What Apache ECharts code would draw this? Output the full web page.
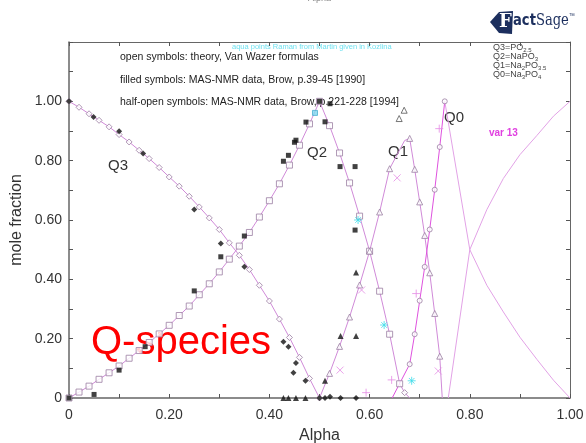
<!DOCTYPE html>
<html>
<head>
<meta charset="utf-8">
<script src="https://cdn.jsdelivr.net/npm/echarts@6/dist/echarts.min.js"></script>
<style>
  html, body { margin: 0; padding: 0; background: #ffffff; }
  #chart { width: 586px; height: 443px; }
</style>
</head>
<body>
<div id="chart"></div>
<script>
// Van Wazer theory curves: [alpha, mole fraction]
const q3Theory = [
  [0, 1.0], [0.02, 0.98], [0.04, 0.958], [0.06, 0.936], [0.08, 0.914], [0.10, 0.888],
  [0.12, 0.863], [0.14, 0.835], [0.16, 0.807], [0.18, 0.777], [0.20, 0.745], [0.22, 0.714],
  [0.24, 0.680], [0.26, 0.644], [0.28, 0.607], [0.30, 0.568], [0.32, 0.523], [0.34, 0.481],
  [0.36, 0.433], [0.38, 0.380], [0.40, 0.327], [0.42, 0.266], [0.44, 0.204], [0.46, 0.137],
  [0.48, 0.066], [0.50, 0]
];
const q2Theory = [
  [0, 0], [0.02, 0.02], [0.04, 0.04], [0.06, 0.063], [0.08, 0.085], [0.10, 0.108],
  [0.12, 0.134], [0.14, 0.16], [0.16, 0.187], [0.18, 0.216], [0.20, 0.245], [0.22, 0.278],
  [0.24, 0.31], [0.26, 0.348], [0.28, 0.385], [0.30, 0.425], [0.32, 0.468], [0.34, 0.512],
  [0.36, 0.558], [0.38, 0.61], [0.40, 0.665], [0.42, 0.722], [0.44, 0.785], [0.46, 0.852],
  [0.48, 0.924], [0.50, 1.0], [0.52, 0.918], [0.54, 0.826], [0.56, 0.725], [0.58, 0.613],
  [0.60, 0.495], [0.62, 0.36], [0.64, 0.215], [0.66, 0.048], [0.67, 0.018], [0.68, 0]
];
const q1Theory = [
  [0.50, 0], [0.52, 0.083], [0.54, 0.174], [0.56, 0.273], [0.58, 0.381], [0.60, 0.495],
  [0.62, 0.627], [0.64, 0.773], [0.67, 0.868], [0.68, 0.875], [0.69, 0.771], [0.70, 0.661],
  [0.71, 0.548], [0.72, 0.422], [0.73, 0.285], [0.74, 0.141], [0.745, 0]
];
const q0Theory = [
  [0.645, 0], [0.68, 0.114], [0.69, 0.215], [0.70, 0.328], [0.71, 0.442], [0.72, 0.568],
  [0.73, 0.702], [0.74, 0.846], [0.75, 1.0]
];
// "var 13" pair beyond the orthophosphate composition
const var13Fall = [
  [0.75, 1.0], [0.80, 0.50], [0.834, 0.38], [0.867, 0.29], [0.90, 0.205],
  [0.934, 0.13], [0.967, 0.06], [1.0, 0]
];
const var13Rise = [
  [0.757, 0], [0.80, 0.50], [0.834, 0.635], [0.867, 0.74], [0.90, 0.82],
  [0.934, 0.885], [0.967, 0.95], [1.0, 1.0]
];
// extra open triangles above the Q1 maximum
const q1OpenExtra = [[0.659, 0.942], [0.669, 0.97]];

// MAS-NMR data (Brow)
const q3Nmr = [
  [0, 1.0], [0.049, 0.947], [0.10, 0.899], [0.148, 0.824], [0.25, 0.635], [0.303, 0.521],
  [0.35, 0.442], [0.428, 0.19], [0.438, 0.173], [0.453, 0.118], [0.448, 0.085], [0.472, 0.058],
  [0.50, 0], [0.511, 0], [0.521, 0.004], [0.542, 0], [0.573, 0]
];
const q2Nmr = [
  [0, 0], [0.05, 0.012], [0.10, 0.094], [0.152, 0.173], [0.25, 0.361], [0.303, 0.476],
  [0.35, 0.546], [0.428, 0.798], [0.438, 0.818], [0.45, 0.862], [0.453, 0.869], [0.473, 0.93],
  [0.50, 1.0], [0.511, 0.931], [0.521, 0.992], [0.541, 0.78], [0.571, 0.78], [0.571, 0.566]
];
const q1Nmr = [
  [0.428, 0], [0.438, 0], [0.453, 0], [0.472, 0], [0.511, 0.058], [0.542, 0.209],
  [0.573, 0.209], [0.573, 0.423]
];
// further pink data points
const pinkCross = [[0.541, 0.094], [0.584, 0.364], [0.655, 0.742], [0.737, 0.091]];
const pinkPlus = [[0.593, 0.018], [0.644, 0.061], [0.693, 0.352], [0.739, 0.908]];
// Raman data (Martin, given in Kozlina)
const ramanSquare = [[0.491, 0.961]];
const ramanStar = [[0.577, 0.6], [0.629, 0.246], [0.684, 0.058]];

// axis tick labels (every second tick)
const xTickLabels = ['0', '0.20', '0.40', '0.60', '0.80', '1.00'];
const yTickLabels = ['0', '0.20', '0.40', '0.60', '0.80', '1.00'];

const FONT = '"Liberation Sans", Arial, sans-serif';
const LINE_VIOLET = '#d08ad8';
const LINE_MAGENTA = '#de52de';
const LINE_PINK = '#e2a2e6';
const MARK_STROKE = '#9b7ea3';

function evenLabel(list) {
  return function (v) {
    const k = Math.round(v * 10);
    if (k % 2 !== 0) return '';
    return list[k / 2] !== undefined ? list[k / 2] : '';
  };
}

function lineSeries(data, color) {
  return {
    type: 'line', data: data, showSymbol: false, symbol: 'none',
    lineStyle: { color: color, width: 1 }, z: 2, silent: true, animation: false
  };
}
function openMarks(data, symbol, size) {
  return {
    type: 'scatter', data: data, symbol: symbol, symbolSize: size,
    itemStyle: { color: '#ffffff', borderColor: MARK_STROKE, borderWidth: 1 },
    z: 3, silent: true, animation: false
  };
}
function filledMarks(data, symbol, size) {
  return {
    type: 'scatter', data: data, symbol: symbol, symbolSize: size,
    itemStyle: { color: '#111111' }, z: 4, silent: true, animation: false
  };
}
function strokeMarks(data, path, size, color) {
  return {
    type: 'scatter', data: data, symbol: path, symbolSize: size,
    itemStyle: { color: 'rgba(0,0,0,0)', borderColor: color, borderWidth: 1 },
    z: 5, silent: true, animation: false
  };
}

const CROSS = 'path://M0,0L10,10M10,0L0,10';
const PLUS = 'path://M5,0L5,10M0,5L10,5';
const STAR = 'path://M5,0L5,10M0,5L10,5M1.5,1.5L8.5,8.5M8.5,1.5L1.5,8.5';

const chart = echarts.init(document.getElementById('chart'), null, { renderer: 'canvas' });

const q1Marked = q1Theory.filter((p, i) => i > 0 && i < q1Theory.length - 1 && p[0] !== 0.67);
const q0Marked = q0Theory.slice(1);
const q2Marked = q2Theory.slice(0, -2);
const q2Tail = q2Theory.slice(-2, -1);

const frameTick = { show: true, inside: true, length: 4, lineStyle: { color: '#555' } };

const option = {
  animation: false,
  backgroundColor: '#ffffff',
  grid: { left: 69, right: 16, top: 42, bottom: 45, containLabel: false, outerBoundsMode: 'none' },
  xAxis: [{
    type: 'value', min: 0, max: 1, interval: 0.1, position: 'bottom',
    name: 'Alpha', nameLocation: 'middle', nameGap: 30, nameMoveOverlap: false,
    nameTextStyle: { fontFamily: FONT, fontSize: 16, color: '#333' },
    axisLine: { show: true, onZero: false, lineStyle: { color: '#666', width: 1.5 } },
    axisTick: frameTick,
    axisLabel: { formatter: evenLabel(xTickLabels), fontFamily: FONT, fontSize: 14, color: '#333', margin: 10 },
    splitLine: { show: false }
  }, {
    type: 'value', min: 0, max: 1, interval: 0.1, position: 'top',
    axisLine: { show: true, onZero: false, lineStyle: { color: '#666', width: 1 } },
    axisTick: frameTick,
    axisLabel: { show: false }, splitLine: { show: false }
  }],
  yAxis: [{
    type: 'value', min: 0, max: 1.2, interval: 0.1, position: 'left',
    name: 'mole fraction', nameLocation: 'middle', nameGap: 44, nameRotate: 90, nameMoveOverlap: false,
    nameTextStyle: { fontFamily: FONT, fontSize: 16, color: '#333' },
    axisLine: { show: true, onZero: false, lineStyle: { color: '#666', width: 1.5 } },
    axisTick: frameTick,
    axisLabel: { formatter: evenLabel(yTickLabels), fontFamily: FONT, fontSize: 14, color: '#333', margin: 7 },
    splitLine: { show: false }
  }, {
    type: 'value', min: 0, max: 1.2, interval: 0.1, position: 'right',
    axisLine: { show: true, onZero: false, lineStyle: { color: '#666', width: 1 } },
    axisTick: frameTick,
    axisLabel: { show: false }, splitLine: { show: false }
  }],
  series: [
    lineSeries(q3Theory, LINE_VIOLET),
    lineSeries(q2Theory, LINE_VIOLET),
    lineSeries(q1Theory, LINE_VIOLET),
    lineSeries(q0Theory, LINE_MAGENTA),
    lineSeries(var13Fall, LINE_PINK),
    lineSeries(var13Rise, LINE_PINK),
    openMarks(q3Theory, 'diamond', 6),
    openMarks(q2Marked, 'rect', 6),
    openMarks(q2Tail, 'diamond', 6),
    openMarks(q1Marked, 'triangle', 6),
    openMarks(q0Marked, 'circle', 5),
    {
      type: 'scatter', data: q1OpenExtra, symbol: 'triangle', symbolSize: 6,
      itemStyle: { color: '#ffffff', borderColor: '#555', borderWidth: 1 }, z: 3, silent: true
    },
    filledMarks(q3Nmr, 'diamond', 6),
    filledMarks(q2Nmr, 'rect', 5),
    filledMarks(q1Nmr, 'triangle', 6),
    strokeMarks(pinkCross, CROSS, 7, '#e58be5'),
    strokeMarks(pinkPlus, PLUS, 8, '#e58be5'),
    {
      type: 'scatter', data: ramanSquare, symbol: 'rect', symbolSize: 5,
      itemStyle: { color: '#7fd8ef', borderColor: '#4aaed0', borderWidth: 1 }, z: 5, silent: true
    },
    strokeMarks(ramanStar, STAR, 8, '#3fdcea')
  ],
  graphic: [
    // FactSage badge
    {
      type: 'polygon', shape: { points: [[490, 22], [499, 12], [513, 11], [512, 34], [499, 33]] },
      style: { fill: '#1c2f5e' }
    },
    {
      type: 'text', x: 499, y: 13,
      style: { text: 'F', font: 'bold 18px "DejaVu Serif", serif', fill: '#ffffff' }
    },
    {
      type: 'text', x: 513, y: 13, scaleX: 0.82,
      style: {
        text: '{b|act}{n|Sage}{t|™}',
        rich: {
          b: { font: 'bold 16px "DejaVu Sans", sans-serif', fill: '#1c2f5e' },
          n: { font: '16px "DejaVu Serif", serif', fill: '#1c2f5e' },
          t: { font: '7px sans-serif', fill: '#1c2f5e', verticalAlign: 'top' }
        }
      }
    },
    // faint top title
    {
      type: 'text', left: 308, top: -6,
      style: { text: 'Alpha', font: '9px ' + FONT, fill: '#888' }
    },
    // formula key
    {
      type: 'text', left: 493, top: 43,
      style: {
        text: '{n|Q3=PO}{s|2.5}\n{n|Q2=NaPO}{s|3}\n{n|Q1=Na}{s|2}{n|PO}{s|3.5}\n{n|Q0=Na}{s|3}{n|PO}{s|4}',
        rich: {
          n: { font: '9px ' + FONT, fill: '#444', lineHeight: 9 },
          s: { font: '6px ' + FONT, fill: '#444', lineHeight: 9, padding: [4, 0, 0, 0] }
        }
      }
    },
    {
      type: 'text', left: 232, top: 43,
      style: { text: 'aqua points Raman from Martin given in Kozlina', font: '7.5px ' + FONT, fill: '#72e2f0' }
    },
    {
      type: 'text', left: 120, top: 52,
      style: { text: 'open symbols: theory, Van Wazer formulas', font: '10.5px ' + FONT, fill: '#222' }
    },
    {
      type: 'text', left: 120, top: 75,
      style: { text: 'filled symbols: MAS-NMR data, Brow, p.39-45 [1990]', font: '10.5px ' + FONT, fill: '#222' }
    },
    {
      type: 'text', left: 120, top: 97,
      style: { text: 'half-open symbols: MAS-NMR data, Brow, p.221-228 [1994]', font: '10.5px ' + FONT, fill: '#222' }
    },
    // curve names
    { type: 'text', left: 108, top: 158, style: { text: 'Q3', font: '15px ' + FONT, fill: '#333' } },
    { type: 'text', left: 307, top: 145, style: { text: 'Q2', font: '15px ' + FONT, fill: '#333' } },
    { type: 'text', left: 388, top: 144, style: { text: 'Q1', font: '15px ' + FONT, fill: '#333' } },
    { type: 'text', left: 444, top: 110, style: { text: 'Q0', font: '15px ' + FONT, fill: '#333' } },
    { type: 'text', left: 489, top: 128, style: { text: 'var 13', font: 'bold 10px ' + FONT, fill: '#e040e0' } },
    // big title
    {
      type: 'text', left: 91, top: 323,
      style: { text: 'Q-species', font: '40px ' + FONT, fill: '#ff0000' }
    }
  ]
};

chart.setOption(option);
</script>
</body>
</html>
